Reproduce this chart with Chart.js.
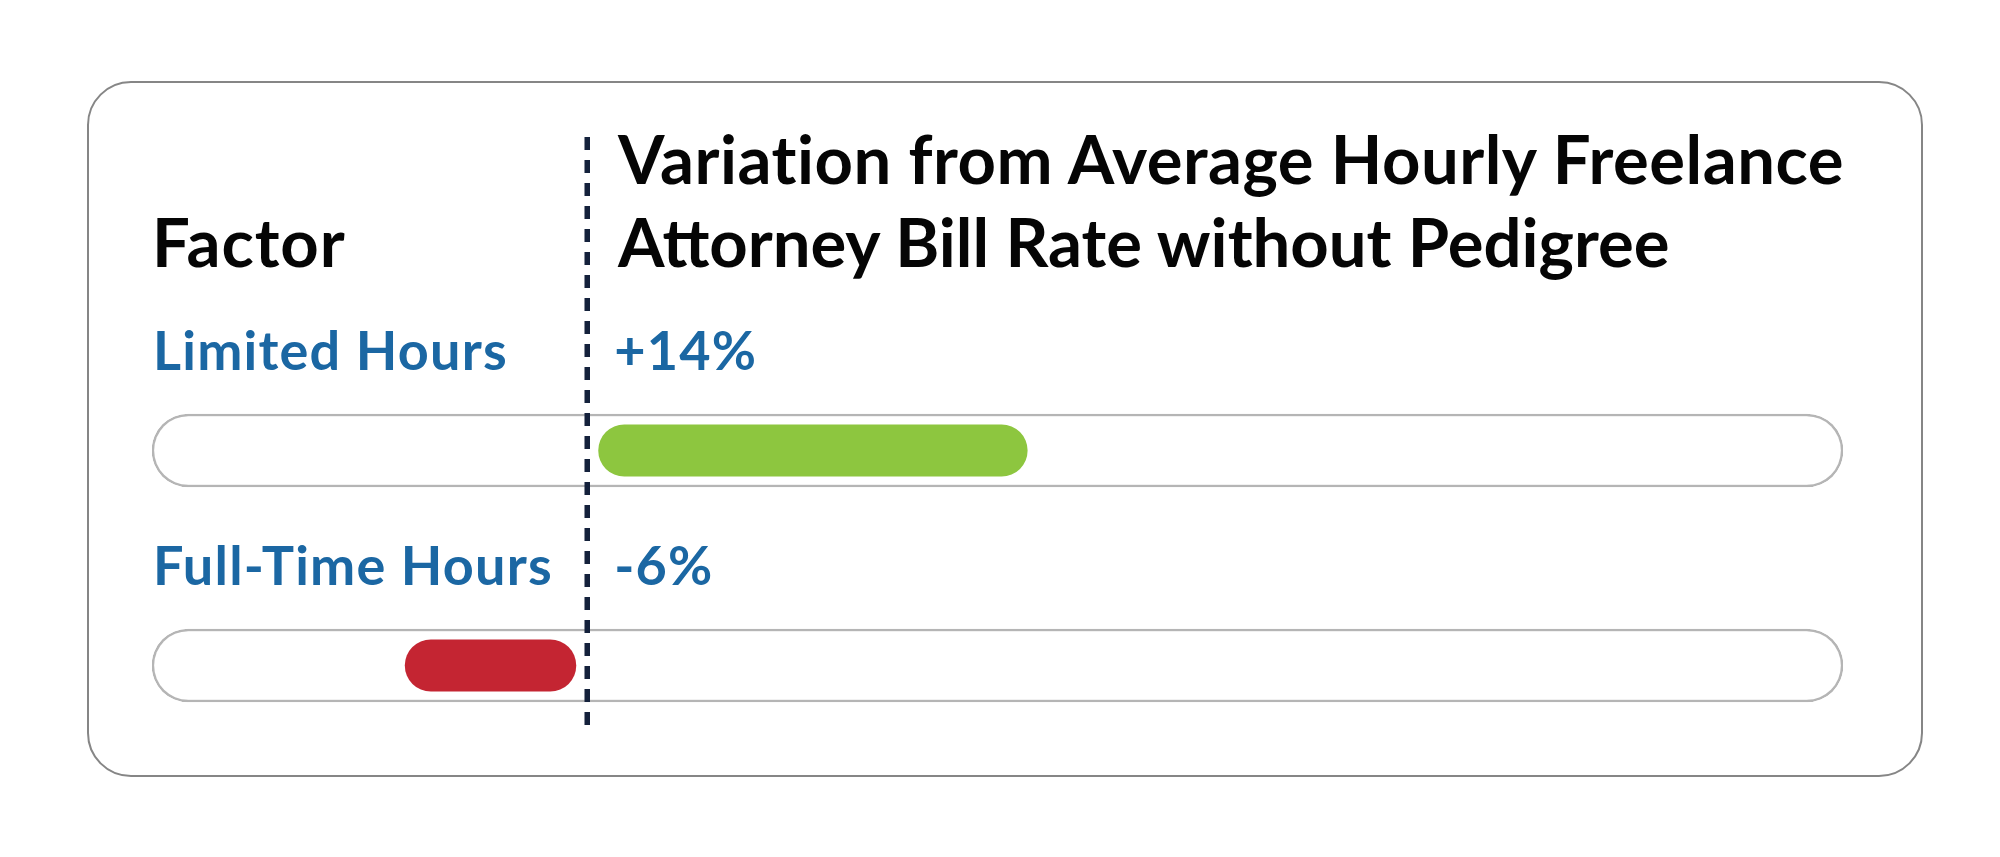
<!DOCTYPE html>
<html>
<head>
<meta charset="utf-8">
<script src="https://cdn.jsdelivr.net/npm/chart.js@4.4.1/dist/chart.umd.min.js"></script>
<style>
  html, body { margin: 0; padding: 0; background: #fff; }
  body { width: 2000px; height: 857px; position: relative; overflow: hidden; font-family: Lato, 'Open Sans', sans-serif; }
  .card { position: absolute; left: 87px; top: 81px; width: 1836px; height: 696px; box-sizing: border-box; border: 2.5px solid #868686; border-radius: 44px; }
  #chart { position: absolute; left: 0; top: 0; }
  .txt { position: absolute; white-space: nowrap; font-weight: 700; }
  .head { font-size: 67px; color: #050505; letter-spacing: 1px; }
  .label { font-size: 54px; line-height: 1; color: #1b67a3; letter-spacing: 1.2px; }
</style>
</head>
<body>
<div class="card"></div>
<canvas id="chart" width="2000" height="857"></canvas>
<div class="txt head" id="factor-head" style="left:152px; top:208px; line-height:1;">Factor</div>
<div class="txt head" id="title-head" style="left:618px; top:117px; line-height:83px;"><span style="letter-spacing:0.5px">Variation from Average Hourly Freelance</span><br><span style="letter-spacing:0">Attorney Bill Rate without Pedigree</span></div>

<script>
// chart data
const categories = ['Limited Hours', 'Full-Time Hours'];
const variation = [14, -6];
const valueLabels = ['+14%', '-6%'];
const axisRange = [-13.5, 38.95];

const barColors = ['#8dc63f', '#c42532'];

// text elements for the rows, placed from the scales after render
const catEls = categories.map(c => {
  const el = document.createElement('div');
  el.className = 'txt label';
  el.textContent = c;
  document.body.appendChild(el);
  return el;
});
const valEls = valueLabels.map(v => {
  const el = document.createElement('div');
  el.className = 'txt label';
  el.textContent = v;
  document.body.appendChild(el);
  return el;
});

// line-height 1 -> baseline sits ~0.887em under the top for Lato
function placeAtBaseline(el, left, baseline) {
  const size = parseFloat(getComputedStyle(el).fontSize);
  el.style.left = left + 'px';
  el.style.top = (baseline - 0.887 * size) + 'px';
}

const rowText = {
  id: 'rowText',
  afterRender(chart) {
    const xs = chart.scales.x;
    const ys = chart.scales.y;
    const zero = xs.getPixelForValue(0);
    categories.forEach((c, i) => {
      const cy = ys.getPixelForValue(i);
      placeAtBaseline(catEls[i], xs.left + 1, cy - 80);
      placeAtBaseline(valEls[i], zero + 27, cy - 80);
    });
  }
};

// dotted zero line
const zeroLine = {
  id: 'zeroLine',
  afterDatasetsDraw(chart) {
    const ctx = chart.ctx;
    const zero = chart.scales.x.getPixelForValue(0);
    ctx.save();
    ctx.strokeStyle = '#14213b';
    ctx.lineWidth = 5.5;
    ctx.setLineDash([13, 10]);
    ctx.beginPath();
    ctx.moveTo(zero, 137);
    ctx.lineTo(zero, 734);
    ctx.stroke();
    ctx.restore();
  }
};

const ctx = document.getElementById('chart').getContext('2d');
new Chart(ctx, {
  type: 'bar',
  data: {
    labels: categories,
    datasets: [
      {
        data: variation,
        backgroundColor: barColors,
        borderWidth: 0,
        borderRadius: 26,
        borderSkipped: false,
        barThickness: 74,
        inflateAmount: -11,
        grouped: false,
        order: 1
      },
      {
        // the pill shaped track behind each bar
        data: categories.map(() => axisRange.slice()),
        backgroundColor: '#ffffff',
        borderColor: '#b5b5b5',
        borderWidth: 2.5,
        borderRadius: 37,
        borderSkipped: false,
        barThickness: 73,
        grouped: false,
        order: 2
      }
    ]
  },
  options: {
    indexAxis: 'y',
    responsive: false,
    animation: false,
    devicePixelRatio: 1,
    events: [],
    layout: { padding: { left: 152, right: 157, top: 343, bottom: 84 } },
    scales: {
      x: { type: 'linear', min: axisRange[0], max: axisRange[1], display: false },
      y: { display: false }
    },
    plugins: {
      legend: { display: false },
      tooltip: { enabled: false }
    }
  },
  plugins: [zeroLine, rowText]
});
</script>
</body>
</html>
